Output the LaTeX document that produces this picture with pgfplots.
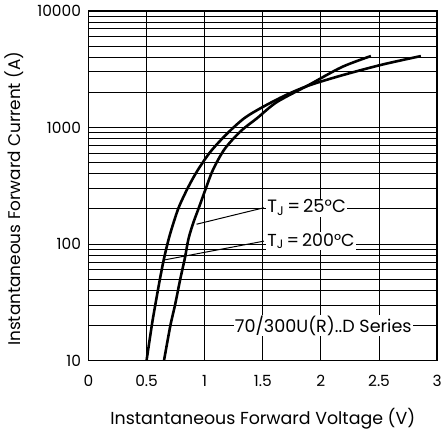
\documentclass[border=0pt]{standalone}
\usepackage{fontspec}
\setmainfont{Poppins}
\usepackage{pgfplots}
\pgfplotsset{compat=1.18}
\begin{document}
\begin{tikzpicture}
\begin{axis}[
  scale only axis,
  width=351pt, height=352pt,
  xmin=0, xmax=3,
  ymode=log, ymin=10, ymax=10000,
  xtick={0,0.5,1,1.5,2,2.5,3},
  xticklabels={0,0.5,1,1.5,2,2.5,3},
  ytick={10,100,1000,10000},
  yticklabels={10,100,1000,10000},
  minor ytick={20,30,40,50,60,70,80,90,200,300,400,500,600,700,800,900,2000,3000,4000,5000,6000,7000,8000,9000},
  grid=both,
  major grid style={black, line width=1pt},
  minor grid style={black, line width=1pt},
  axis line style={black, line width=1.4pt},
  major tick length=0pt, minor tick length=0pt,
  tick label style={font=\fontsize{15.5}{17}\selectfont},
  /pgf/number format/assume math mode=true,
  xticklabel style={anchor=center, yshift=-20pt},
  yticklabel style={anchor=east, xshift=-4pt},
  xlabel={Instantaneous Forward Voltage (V)},
  ylabel={Instantaneous Forward Current (A)},
  xlabel style={font=\fontsize{17.5}{19}\selectfont, at={(axis description cs:0.5,0)}, anchor=center, yshift=-58pt},
  ylabel style={font=\fontsize{17}{19}\selectfont, at={(axis description cs:0,0.463)}, anchor=center, yshift=75pt},
  clip=true,
]
% T_J = 200 C
\addplot[black, line width=2.6pt, smooth] coordinates {
(0.50,10) (0.545,20) (0.575,30) (0.615,50) (0.65,75) (0.69,110) (0.73,150) (0.78,210) (0.86,310) (0.94,430) (1.05,620) (1.19,880) (1.34,1200) (1.50,1500) (1.70,1900) (1.90,2300) (2.18,2800) (2.52,3450) (2.86,4100)
};
% T_J = 25 C
\addplot[black, line width=2.6pt, smooth] coordinates {
(0.65,10) (0.705,20) (0.745,30) (0.79,50) (0.83,76) (0.86,110) (0.90,150) (0.95,205) (1.01,300) (1.07,430) (1.17,650) (1.31,930) (1.45,1200) (1.62,1650) (1.89,2300) (2.18,3300) (2.43,4100)
};
% leaders
\addplot[black, line width=1pt] coordinates {(0.93,148) (1.51,205)};
\addplot[black, line width=1pt] coordinates {(0.65,73) (1.51,106)};
\node[fill=white, inner sep=1pt, anchor=west, font=\fontsize{18}{20}\selectfont] at (axis cs:1.53,205) {T\textsubscript{J}\,=\,25°C};
\node[fill=white, inner sep=1pt, anchor=west, font=\fontsize{17.5}{20}\selectfont] at (axis cs:1.53,106) {T\textsubscript{J}\,=\,200°C};
\node[fill=white, inner sep=1pt, anchor=west, font=\fontsize{17.7}{20}\selectfont] at (axis cs:1.25,20) {70/300U(R)..D Series};
\end{axis}
\useasboundingbox ([shift={(-89pt,-67pt)}]current axis.south west) rectangle ([shift={(4pt,11pt)}]current axis.north east);
\end{tikzpicture}
\end{document}
